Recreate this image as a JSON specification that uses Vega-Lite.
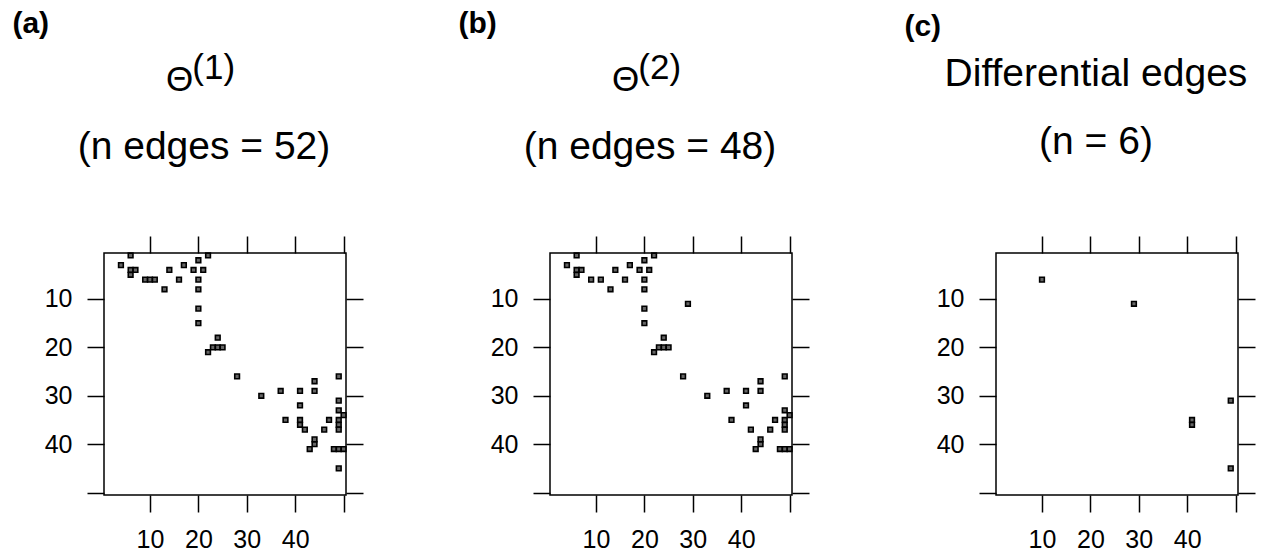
{
  "$schema": "https://vega.github.io/schema/vega-lite/v6.json",
  "background": "white",
  "padding": {"left": 12, "top": 8, "right": 10, "bottom": 2},
  "datasets": {
    "a": [
      {"j": 6, "i": 1}, {"j": 22, "i": 1}, {"j": 4, "i": 3}, {"j": 6, "i": 4}, {"j": 7, "i": 4}, {"j": 6, "i": 5},
      {"j": 9, "i": 6}, {"j": 10, "i": 6}, {"j": 11, "i": 6}, {"j": 13, "i": 8}, {"j": 14, "i": 4}, {"j": 16, "i": 6},
      {"j": 17, "i": 3}, {"j": 19, "i": 4}, {"j": 20, "i": 2}, {"j": 21, "i": 4}, {"j": 20, "i": 6}, {"j": 20, "i": 8},
      {"j": 20, "i": 12}, {"j": 20, "i": 15}, {"j": 24, "i": 18}, {"j": 23, "i": 20}, {"j": 24, "i": 20}, {"j": 25, "i": 20},
      {"j": 22, "i": 21}, {"j": 28, "i": 26}, {"j": 33, "i": 30}, {"j": 37, "i": 29}, {"j": 41, "i": 29}, {"j": 44, "i": 27},
      {"j": 44, "i": 29}, {"j": 49, "i": 26}, {"j": 41, "i": 32}, {"j": 49, "i": 31}, {"j": 49, "i": 33}, {"j": 50, "i": 34},
      {"j": 38, "i": 35}, {"j": 41, "i": 35}, {"j": 41, "i": 36}, {"j": 42, "i": 37}, {"j": 47, "i": 35}, {"j": 46, "i": 37},
      {"j": 49, "i": 35}, {"j": 49, "i": 36}, {"j": 49, "i": 37}, {"j": 44, "i": 39}, {"j": 44, "i": 40}, {"j": 43, "i": 41},
      {"j": 48, "i": 41}, {"j": 49, "i": 41}, {"j": 50, "i": 41}, {"j": 49, "i": 45}
    ],
    "b": [
      {"j": 6, "i": 1}, {"j": 22, "i": 1}, {"j": 4, "i": 3}, {"j": 6, "i": 4}, {"j": 7, "i": 4}, {"j": 6, "i": 5},
      {"j": 9, "i": 6}, {"j": 11, "i": 6}, {"j": 13, "i": 8}, {"j": 14, "i": 4}, {"j": 16, "i": 6},
      {"j": 17, "i": 3}, {"j": 19, "i": 4}, {"j": 20, "i": 2}, {"j": 21, "i": 4}, {"j": 20, "i": 6}, {"j": 20, "i": 8},
      {"j": 29, "i": 11}, {"j": 20, "i": 12}, {"j": 20, "i": 15}, {"j": 24, "i": 18}, {"j": 23, "i": 20}, {"j": 24, "i": 20}, {"j": 25, "i": 20},
      {"j": 22, "i": 21}, {"j": 28, "i": 26}, {"j": 33, "i": 30}, {"j": 37, "i": 29}, {"j": 41, "i": 29}, {"j": 44, "i": 27},
      {"j": 44, "i": 29}, {"j": 49, "i": 26}, {"j": 41, "i": 32}, {"j": 49, "i": 33}, {"j": 50, "i": 34},
      {"j": 38, "i": 35}, {"j": 42, "i": 37}, {"j": 47, "i": 35}, {"j": 46, "i": 37},
      {"j": 49, "i": 35}, {"j": 49, "i": 36}, {"j": 49, "i": 37}, {"j": 44, "i": 39}, {"j": 44, "i": 40}, {"j": 43, "i": 41},
      {"j": 48, "i": 41}, {"j": 49, "i": 41}, {"j": 50, "i": 41}
    ],
    "c": [
      {"j": 10, "i": 6}, {"j": 29, "i": 11}, {"j": 49, "i": 31}, {"j": 41, "i": 35}, {"j": 41, "i": 36}, {"j": 49, "i": 45}
    ]
  },
  "spacing": 93,
  "columns": 3,
  "align": "none",
  "concat": [
    {
      "title": {"text": "(a)", "anchor": "start", "fontSize": 30, "fontWeight": "bold", "dx": -31, "offset": 12, "color": "black", "font": "Liberation Sans"},
      "vconcat": [
        {
          "title": {"text": ["\u200b\u00a0\u00a0(1)", "Θ\u00a0\u00a0\u00a0\u00a0\u00a0\u200b"], "lineHeight": 12, "subtitle": "(n edges = 52)", "anchor": "middle", "frame": "bounds", "fontSize": 35, "fontWeight": "normal", "subtitleFontSize": 39, "subtitlePadding": 30, "offset": 68, "color": "black", "subtitleColor": "black", "font": "Liberation Sans", "subtitleFont": "Liberation Sans"},
          "width": 242, "height": 242,
          "data": {"name": "a"},
          "layer": [
            {
              "mark": {"type": "square", "size": 22, "fill": "#666666", "fillOpacity": 1, "stroke": "black", "strokeWidth": 1.6},
              "encoding": {
                "x": {"field": "j", "type": "quantitative", "scale": {"domain": [0.5, 50.5], "nice": false, "zero": false}, "axis": {"orient": "bottom"}},
                "y": {"field": "i", "type": "quantitative", "scale": {"domain": [0.5, 50.5], "reverse": true, "nice": false, "zero": false}, "axis": {"orient": "left"}}
              }
            },
            {
              "mark": {"type": "square", "size": 22, "opacity": 0},
              "encoding": {
                "x": {"field": "j", "type": "quantitative", "axis": {"orient": "top", "labels": false}},
                "y": {"field": "i", "type": "quantitative", "axis": {"orient": "right", "labels": false}}
              }
            }
          ],
          "resolve": {"axis": {"x": "independent", "y": "independent"}}
        }
      ]
    },
    {
      "title": {"text": "(b)", "anchor": "start", "fontSize": 30, "fontWeight": "bold", "dx": -31, "offset": 12, "color": "black", "font": "Liberation Sans"},
      "vconcat": [
        {
          "title": {"text": ["\u200b\u00a0\u00a0(2)", "Θ\u00a0\u00a0\u00a0\u00a0\u00a0\u200b"], "lineHeight": 12, "subtitle": "(n edges = 48)", "anchor": "middle", "frame": "bounds", "fontSize": 35, "fontWeight": "normal", "subtitleFontSize": 39, "subtitlePadding": 30, "offset": 68, "color": "black", "subtitleColor": "black", "font": "Liberation Sans", "subtitleFont": "Liberation Sans"},
          "width": 242, "height": 242,
          "data": {"name": "b"},
          "layer": [
            {
              "mark": {"type": "square", "size": 22, "fill": "#666666", "fillOpacity": 1, "stroke": "black", "strokeWidth": 1.6},
              "encoding": {
                "x": {"field": "j", "type": "quantitative", "scale": {"domain": [0.5, 50.5], "nice": false, "zero": false}, "axis": {"orient": "bottom"}},
                "y": {"field": "i", "type": "quantitative", "scale": {"domain": [0.5, 50.5], "reverse": true, "nice": false, "zero": false}, "axis": {"orient": "left"}}
              }
            },
            {
              "mark": {"type": "square", "size": 22, "opacity": 0},
              "encoding": {
                "x": {"field": "j", "type": "quantitative", "axis": {"orient": "top", "labels": false}},
                "y": {"field": "i", "type": "quantitative", "axis": {"orient": "right", "labels": false}}
              }
            }
          ],
          "resolve": {"axis": {"x": "independent", "y": "independent"}}
        }
      ]
    },
    {
      "title": {"text": "(c)", "anchor": "start", "fontSize": 30, "fontWeight": "bold", "dx": -31, "offset": 13, "color": "black", "font": "Liberation Sans"},
      "vconcat": [
        {
          "title": {"text": "Differential edges", "subtitle": "(n = 6)", "anchor": "middle", "frame": "bounds", "fontSize": 39, "fontWeight": "normal", "subtitleFontSize": 39, "subtitlePadding": 29, "offset": 73, "color": "black", "subtitleColor": "black", "font": "Liberation Sans", "subtitleFont": "Liberation Sans"},
          "width": 242, "height": 242,
          "data": {"name": "c"},
          "layer": [
            {
              "mark": {"type": "square", "size": 22, "fill": "#666666", "fillOpacity": 1, "stroke": "black", "strokeWidth": 1.6},
              "encoding": {
                "x": {"field": "j", "type": "quantitative", "scale": {"domain": [0.5, 50.5], "nice": false, "zero": false}, "axis": {"orient": "bottom"}},
                "y": {"field": "i", "type": "quantitative", "scale": {"domain": [0.5, 50.5], "reverse": true, "nice": false, "zero": false}, "axis": {"orient": "left"}}
              }
            },
            {
              "mark": {"type": "square", "size": 22, "opacity": 0},
              "encoding": {
                "x": {"field": "j", "type": "quantitative", "axis": {"orient": "top", "labels": false}},
                "y": {"field": "i", "type": "quantitative", "axis": {"orient": "right", "labels": false}}
              }
            }
          ],
          "resolve": {"axis": {"x": "independent", "y": "independent"}}
        }
      ]
    }
  ],
  "config": {
    "font": "Liberation Sans",
    "view": {"stroke": "black", "strokeWidth": 1.5},
    "axis": {
      "grid": false,
      "domain": false,
      "title": null,
      "values": [10, 20, 30, 40, 50],
      "labelExpr": "datum.value == 50 ? '' : datum.label",
      "tickColor": "black",
      "tickWidth": 1.5,
      "tickSize": 17,
      "labelFont": "Liberation Sans",
      "labelFontSize": 25,
      "labelColor": "black",
      "labelPadding": 15,
      "labelFlush": false,
      "labelOverlap": false
    }
  }
}
